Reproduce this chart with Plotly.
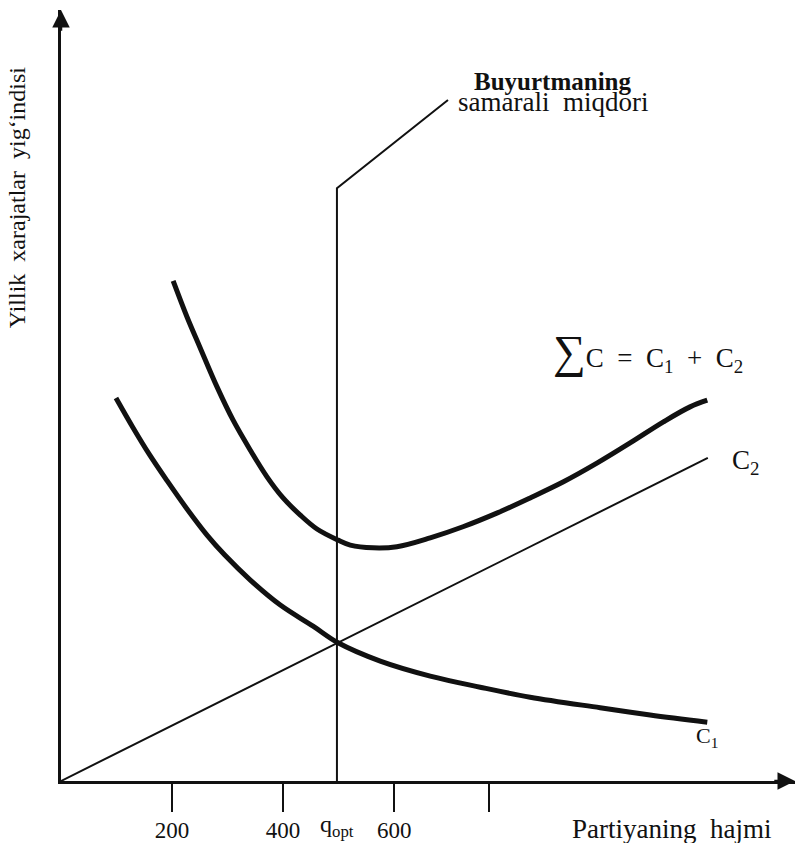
import plotly.graph_objects as go

# ---- data (arbitrary units) ----
sum_q = [202, 227, 250, 281, 310, 341, 371, 400, 431, 461, 499, 521, 562, 605, 665, 724,
         786, 845, 905, 966, 1025, 1085, 1133, 1164]
sum_c = [901, 836, 782, 710, 650, 596, 548, 510, 479, 454, 434, 425, 420, 422, 438, 458,
         483, 510, 539, 573, 609, 647, 674, 686]

c1_q = [99, 130, 160, 191, 227, 263, 295, 341, 395, 454, 499, 575, 665, 755, 845, 971, 1061, 1164]
c1_c = [690, 636, 587, 541, 490, 443, 407, 362, 317, 279, 249, 216, 189, 169, 151, 132, 119, 106]

c2_q = [0, 1165]
c2_c = [0, 582]

q_opt = 497
leader_q = [q_opt, q_opt, 697]
leader_c = [0, 1068, 1227]

tick_vals = [200, 400, 600, 770]
tick_text = ["200", "400", "600", ""]

x_max = 1322
y_max = 1389

FONT = "Liberation Serif, Times New Roman, serif"
INK = "#111111"

fig = go.Figure()
fig.add_trace(go.Scatter(x=c2_q, y=c2_c, mode="lines",
                         line=dict(color=INK, width=2), hoverinfo="skip"))
fig.add_trace(go.Scatter(x=c1_q, y=c1_c, mode="lines",
                         line=dict(color=INK, width=5, shape="spline", smoothing=1.0),
                         hoverinfo="skip"))
fig.add_trace(go.Scatter(x=sum_q, y=sum_c, mode="lines",
                         line=dict(color=INK, width=5, shape="spline", smoothing=1.0),
                         hoverinfo="skip"))
fig.add_trace(go.Scatter(x=leader_q, y=leader_c, mode="lines",
                         line=dict(color=INK, width=2), hoverinfo="skip"))

annotations = [
    # axis arrowheads
    dict(x=x_max, y=0, ax=x_max - 40, ay=0, xref="x", yref="y", axref="x", ayref="y",
         showarrow=True, arrowhead=2, arrowsize=1.4, arrowwidth=2.5, arrowcolor=INK, text=""),
    dict(x=0, y=y_max, ax=0, ay=y_max - 40, xref="x", yref="y", axref="x", ayref="y",
         showarrow=True, arrowhead=2, arrowsize=1.4, arrowwidth=2.5, arrowcolor=INK, text=""),
    # labels
    dict(x=885, y=1260, xref="x", yref="y", showarrow=False,
         text="<b>Buyurtmaning</b>", font=dict(family=FONT, size=25, color=INK)),
    dict(x=886, y=1223, xref="x", yref="y", showarrow=False,
         text="samarali  miqdori", font=dict(family=FONT, size=27, color=INK)),
    dict(x=1058, y=773, xref="x", yref="y", showarrow=False,
         text="<span style='font-size:46px'>∑</span>C&nbsp;&nbsp;=&nbsp;&nbsp;C<sub>1</sub>&nbsp;&nbsp;+&nbsp;&nbsp;C<sub>2</sub>",
         font=dict(family=FONT, size=27, color=INK)),
    dict(x=1205, y=575, xref="x", yref="y", showarrow=False, xanchor="left",
         text="C<sub>2</sub>", font=dict(family=FONT, size=27, color=INK)),
    dict(x=1164, y=80, xref="x", yref="y", showarrow=False,
         text="C<sub>1</sub>", font=dict(family=FONT, size=22, color=INK)),
    dict(x=q_opt, y=-0.058, xref="x", yref="paper", xanchor="center", yanchor="middle",
         showarrow=False, text="q<sub>opt</sub>", font=dict(family=FONT, size=24, color=INK)),
    dict(x=1099, y=-0.062, xref="x", yref="paper", xanchor="center", yanchor="middle",
         showarrow=False, text="Partiyaning  hajmi", font=dict(family=FONT, size=27, color=INK)),
    dict(x=-0.060, y=0.757, xref="paper", yref="paper", xanchor="center", yanchor="middle",
         showarrow=False, textangle=-90,
         text="Yillik  xarajatlar  yig‘indisi", font=dict(family=FONT, size=24, color=INK)),
]

fig.update_layout(
    width=800, height=843, autosize=False,
    margin=dict(l=61, r=5, t=10, b=62, autoexpand=False),
    paper_bgcolor="white", plot_bgcolor="white",
    showlegend=False,
    annotations=annotations,
    xaxis=dict(range=[0, x_max], showgrid=False, zeroline=False, automargin=False,
               showline=True, linecolor=INK, linewidth=2.5,
               tickmode="array", tickvals=tick_vals, ticktext=tick_text,
               ticks="outside", ticklen=28, tickwidth=2, tickcolor=INK,
               ticklabelstandoff=-1,
               tickfont=dict(family=FONT, size=23, color=INK)),
    yaxis=dict(range=[0, y_max], showgrid=False, zeroline=False, automargin=False,
               showline=True, linecolor=INK, linewidth=2.5,
               showticklabels=False, ticks=""),
)

# remove the browser's default page margin so the 800x843 figure fills the window exactly
fig.write_html(
    "out.html",
    config={"displayModeBar": False},
    post_script="document.body.style.margin='0';document.documentElement.style.overflow='hidden';",
)
